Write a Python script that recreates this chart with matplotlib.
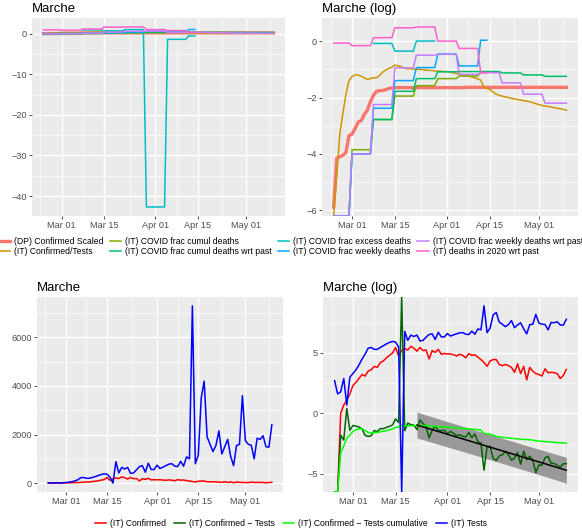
import numpy as np
import pandas as pd
import matplotlib
matplotlib.use('Agg')
import matplotlib.pyplot as plt
import matplotlib.dates as mdates
from matplotlib.ticker import MultipleLocator

plt.rcParams['font.family'] = ['Liberation Sans', 'DejaVu Sans']

REGION = 'Marche'
START = '2020-02-24'
END = '2020-05-10'

# ---- top row: values as read on the "(log)" panel (natural log) ----
# daily, Feb 24 .. May 10
DP_CONFIRMED_SCALED = [
    -5.88, -4.15, -4.10, -4.05, -3.95, -3.35,
    -3.30, -3.10, -2.87, -2.82, -2.60, -2.45, -2.15, -1.92, -1.78, -1.76,
    -1.75, -1.72, -1.68, -1.66, -1.65, -1.65, -1.65, -1.65, -1.65, -1.65,
    -1.65, -1.65, -1.65, -1.65, -1.65, -1.65, -1.65, -1.65, -1.65, -1.65, -1.65,
    -1.65, -1.65, -1.65, -1.65, -1.65, -1.65, -1.64, -1.64, -1.64, -1.64,
    -1.64, -1.64, -1.64, -1.64, -1.64, -1.64, -1.64, -1.64, -1.64, -1.64,
    -1.64, -1.64, -1.64, -1.64, -1.64, -1.64, -1.64, -1.64, -1.64, -1.64,
    -1.64, -1.64, -1.64, -1.64, -1.64, -1.64, -1.64, -1.64, -1.64, -1.64,
]
IT_CONFIRMED_TESTS = [
    -np.inf, -4.80, -3.29, -2.57, -1.90, -1.40,
    -1.26, -1.20, -1.20, -1.25, -1.30, -1.36, -1.33, -1.30, -1.30, -1.22,
    -1.10, -1.03, -0.97, -0.93, -0.85, -0.88, -0.90, -0.96, -0.98, -0.98,
    -0.99, -1.00, -1.00, -1.01, -1.02, -1.04, -1.04, -1.06, -1.06, -1.07, -1.08,
    -1.08, -1.10, -1.12, -1.15, -1.17, -1.20, -1.22, -1.24, -1.27, -1.30,
    -1.34, -1.38, -1.62, -1.68, -1.72, -1.80, -1.88, -1.92, -1.95, -1.98,
    -2.00, -2.03, -2.05, -2.07, -2.09, -2.11, -2.13, -2.15, -2.18, -2.22,
    -2.25, -2.28, -2.30, -2.32, -2.34, -2.36, -2.38, -2.40, -2.42, -2.45,
]
# weekly (Sunday..Saturday weeks), first value = week holding the first day
CUMUL_DEATHS = [-np.inf, -3.85, -2.78, -1.95, -1.58, -1.33, -1.24, -1.12]
CUMUL_DEATHS_WRT_PAST = [-np.inf, -4.00, -2.78, -1.78, -1.33, -1.09, -1.08,
                         -1.08, -1.13, -1.20, -1.25, -1.25]
EXCESS_DEATHS_LINEAR = [0.92, 0.70, 1.00, -42.7, -1.40, -0.55]
WEEKLY_DEATHS = [-np.inf, -4.00, -2.38, -1.40, -0.94, -0.46, -0.88, 0.03]
WEEKLY_DEATHS_WRT_PAST = [-np.inf, -4.00, -2.25, -0.95, -0.50, -0.47, -1.18,
                          -1.12, -1.48, -1.88, -2.20, -2.20]
DEATHS_2020_WRT_PAST = [-0.07, -0.16, 0.12, 0.47, 0.50, 0.00, -0.26, -1.12]

WEEKLY_SPANS = {
    'cumul': ('2020-02-24', '2020-04-14'),
    'cumul_past': ('2020-02-24', '2020-05-10'),
    'excess': ('2020-03-08', '2020-04-14'),
    'weekly': ('2020-02-24', '2020-04-14'),
    'weekly_past': ('2020-02-24', '2020-05-10'),
    'd2020': ('2020-02-24', '2020-04-14'),
}

TOP_LABELS = ['(DP) Confirmed Scaled', '(IT) Confirmed/Tests',
              '(IT) COVID frac cumul deaths', '(IT) COVID frac cumul deaths wrt past',
              '(IT) COVID frac excess deaths', '(IT) COVID frac weekly deaths',
              '(IT) COVID frac weekly deaths wrt past', '(IT) deaths in 2020 wrt past']
TOP_COLORS = ['#F8766D', '#CD9600', '#7CAE00', '#00BE67',
              '#00BFC4', '#00A9FF', '#C77CFF', '#FF61CC']

# ---- bottom row: daily counts, Feb 24 .. May 10 ----
CONFIRMED = [
    0, 0, 1, 2, 3, 5,
    10, 13, 18, 25, 22, 33, 37, 49, 45, 67,
    77, 99, 122, 148, 233, 116, 181, 211, 190, 257,
    221, 172, 233, 181, 190, 90, 181, 156, 200, 134, 141,
    137, 137, 128, 116, 134, 122, 99, 141, 122, 128,
    105, 86, 67, 49, 77, 86, 86, 57, 52, 57,
    52, 45, 30, 60, 27, 49, 16, 45, 33, 27,
    25, 22, 40, 29, 30, 29, 27, 18, 23, 38,
]
TESTS = [
    15, 5, 6, 18, 2, 20,
    27, 37, 55, 90, 134, 221, 233, 200, 200, 233,
    270, 314, 354, 384, 365, 245, 0, 880, 420, 650,
    580, 650, 400, 420, 550, 680, 720, 450, 820, 560, 560,
    740, 600, 660, 720, 780, 800, 700, 680, 900, 700,
    1080, 1000, 7300, 800, 1150, 3500, 4200, 1900, 1600, 1300,
    1550, 2150, 1200, 1500, 1800, 1100, 720, 1550, 1600, 3600,
    1750, 1600, 1560, 1000, 1850, 1800, 1950, 1500, 1480, 2400,
]
FIT_START = '2020-03-22'
BOTTOM_LABELS = ['(IT) Confirmed', '(IT) Confirmed \u2212 Tests',
                 '(IT) Confirmed \u2212 Tests cumulative', '(IT) Tests']
BOTTOM_COLORS = ['#FF0000', '#006400', '#00FF00', '#0000FF']

MAJOR_DATES = pd.to_datetime(['2020-03-01', '2020-03-15', '2020-04-01',
                              '2020-04-15', '2020-05-01'])


def weekly(values, first, last):
    days = pd.date_range(first, last)
    f = pd.Timestamp(first)
    week0 = f - pd.Timedelta(days=(f.dayofweek + 1) % 7)
    idx = np.asarray((days - week0).days) // 7
    return days, np.asarray(values, float)[idx]


def ggstyle(ax, title, ymaj, ymin):
    ax.set_facecolor('#EBEBEB')
    for s in ax.spines.values():
        s.set_visible(False)
    ax.set_xticks(MAJOR_DATES)
    mids = MAJOR_DATES[:-1] + (MAJOR_DATES[1:] - MAJOR_DATES[:-1]) / 2
    first = MAJOR_DATES[0] - (MAJOR_DATES[1] - MAJOR_DATES[0]) / 2
    last = MAJOR_DATES[-1] + (MAJOR_DATES[-1] - MAJOR_DATES[-2]) / 2
    ax.set_xticks([first] + list(mids) + [last], minor=True)
    ax.xaxis.set_major_formatter(mdates.DateFormatter('%b %d'))
    ax.yaxis.set_major_locator(MultipleLocator(ymaj))
    ax.yaxis.set_minor_locator(MultipleLocator(ymin))
    ax.grid(which='major', color='white', lw=1.0)
    ax.grid(which='minor', color='white', lw=0.5)
    ax.set_axisbelow(True)
    ax.tick_params(which='major', length=2, width=0.6, color='#333333',
                   labelsize=6.6, labelcolor='#4D4D4D', pad=1.5)
    ax.tick_params(which='minor', length=0)
    ax.set_title(title, loc='left', fontsize=9.5, pad=4)


def log_limits(arrays):
    vals = np.concatenate([np.asarray(a, float) for a in arrays])
    vals = vals[np.isfinite(vals)]
    lo, hi = vals.min(), vals.max()
    pad = (hi - lo) * 0.05
    return lo - pad, hi + pad


dates = pd.date_range(START, END)

# top series in log form
top_series = [
    (dates, np.asarray(DP_CONFIRMED_SCALED, float)),
    (dates, np.asarray(IT_CONFIRMED_TESTS, float)),
    weekly(CUMUL_DEATHS, *WEEKLY_SPANS['cumul']),
    weekly(CUMUL_DEATHS_WRT_PAST, *WEEKLY_SPANS['cumul_past']),
    None,
    weekly(WEEKLY_DEATHS, *WEEKLY_SPANS['weekly']),
    weekly(WEEKLY_DEATHS_WRT_PAST, *WEEKLY_SPANS['weekly_past']),
    weekly(DEATHS_2020_WRT_PAST, *WEEKLY_SPANS['d2020']),
]
ex_days, ex_lin = weekly(EXCESS_DEATHS_LINEAR, *WEEKLY_SPANS['excess'])
with np.errstate(invalid='ignore', divide='ignore'):
    top_series[4] = (ex_days, np.log(ex_lin))

fig = plt.figure(figsize=(5.82, 5.30), dpi=100)
ax_tl = fig.add_axes([0.055, 0.5925, 0.4347, 0.3736])
ax_tr = fig.add_axes([0.5533, 0.5925, 0.4399, 0.3736])
ax_bl = fig.add_axes([0.0636, 0.0717, 0.4227, 0.368])
ax_br = fig.add_axes([0.555, 0.0717, 0.438, 0.368])

# top-left: linear scale
for i, (d, v) in enumerate(top_series):
    lin = ex_lin if i == 4 else np.exp(v)
    ax_tl.plot(d, lin, color=TOP_COLORS[i], lw=2.4 if i == 0 else 1.1)
ax_tl.margins(0.05)
ggstyle(ax_tl, REGION, 10, 5)

# top-right: log scale, infinite values pinned to the panel edges
lo, hi = log_limits([v for _, v in top_series])
handles = []
for i, (d, v) in enumerate(top_series):
    ln, = ax_tr.plot(d, np.clip(v, lo, hi), color=TOP_COLORS[i],
                     lw=2.4 if i == 0 else 1.1, label=TOP_LABELS[i])
    handles.append(ln)
ax_tr.set_ylim(lo, hi)
ax_tr.margins(x=0.05)
ggstyle(ax_tr, REGION + ' (log)', 2, 1)

fig.legend(handles, TOP_LABELS, ncol=4, loc='center', bbox_to_anchor=(0.5, 0.535),
           frameon=False, fontsize=6.2, handlelength=1.3, handletextpad=0.5,
           columnspacing=0.7, labelspacing=0.15, borderpad=0)

# bottom-left: linear
conf = np.asarray(CONFIRMED, float)
tests = np.asarray(TESTS, float)
ax_bl.plot(dates, conf, color=BOTTOM_COLORS[0], lw=1.1)
ax_bl.plot(dates, tests, color=BOTTOM_COLORS[3], lw=1.1)
ax_bl.margins(0.05)
ggstyle(ax_bl, REGION, 2000, 1000)

# bottom-right: log
with np.errstate(divide='ignore', invalid='ignore'):
    log_conf = np.log(conf)
    log_tests = np.log(tests)
    diff = log_conf - log_tests
    diff_cum = np.log(np.cumsum(conf)) - np.log(np.cumsum(tests))

sel = (dates >= pd.Timestamp(FIT_START)) & np.isfinite(diff)
x = np.asarray((dates[sel] - dates[0]).days, float)
y = diff[sel]
slope, icpt = np.polyfit(x, y, 1)
resid = y - (icpt + slope * x)
n = len(x)
s = np.sqrt((resid ** 2).sum() / (n - 2))
xg = np.linspace(x.min(), x.max(), 80)
fit = icpt + slope * xg
band = 2.01 * s * np.sqrt(1 + 1 / n + (xg - x.mean()) ** 2 / ((x - x.mean()) ** 2).sum())
xg_dates = dates[0] + pd.to_timedelta(xg, unit='D')

lo, hi = log_limits([log_conf, log_tests, diff, diff_cum, fit - band, fit + band])
ax_br.fill_between(xg_dates, fit - band, fit + band, color='#999999', lw=0, zorder=1.5)
bottom_handles = []
for col, v, lab in zip(BOTTOM_COLORS, [log_conf, diff, diff_cum, log_tests], BOTTOM_LABELS):
    ln, = ax_br.plot(dates, np.clip(v, lo, hi), color=col, lw=1.1, label=lab, zorder=2)
    bottom_handles.append(ln)
ax_br.plot(xg_dates, fit, color='black', lw=1.1, zorder=3)
ax_br.set_ylim(lo, hi)
ax_br.margins(x=0.05)
ggstyle(ax_br, REGION + ' (log)', 5, 2.5)

fig.legend(bottom_handles, BOTTOM_LABELS, ncol=4, loc='center',
           bbox_to_anchor=(0.5, 0.0115), frameon=False, fontsize=6.2,
           handlelength=1.3, handletextpad=0.5, columnspacing=0.9, borderpad=0)

fig.savefig('out.png', dpi=100, facecolor='white')
